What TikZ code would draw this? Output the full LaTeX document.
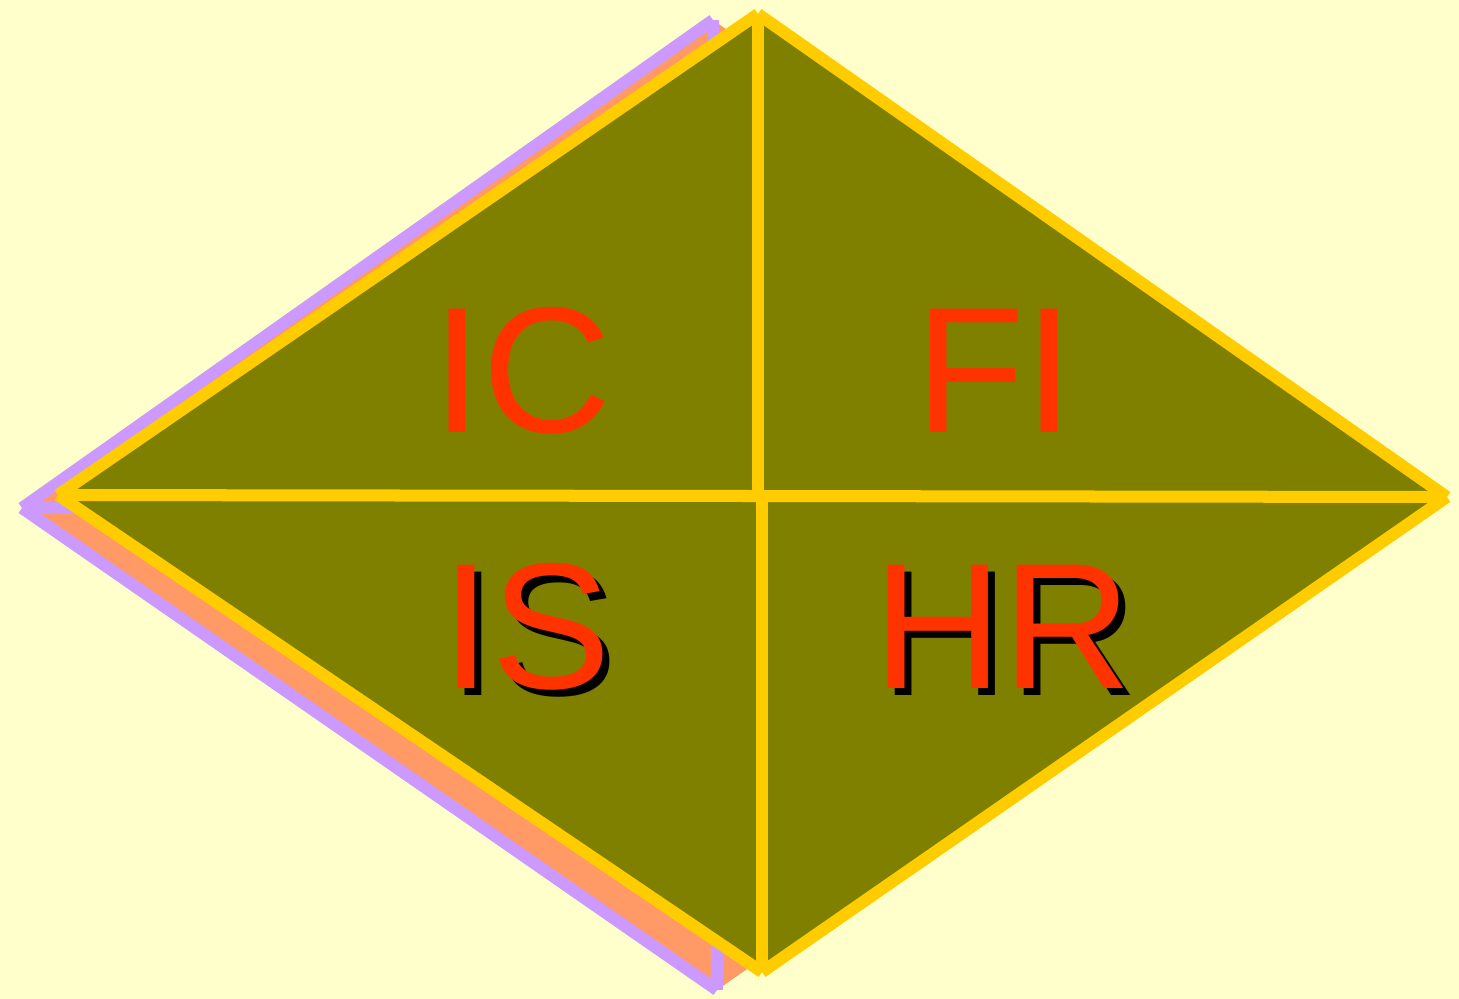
\documentclass[tikz,border=0pt]{standalone}
\usepackage{fontspec}
\setmainfont{Liberation Sans}
\usetikzlibrary{positioning}
\definecolor{paper}{HTML}{FFFFCC}
\definecolor{olive}{HTML}{808000}
\definecolor{gold}{HTML}{FFCC00}
\definecolor{lavender}{HTML}{CC99FF}
\definecolor{salmon}{HTML}{FF9966}
\definecolor{redorange}{HTML}{FF3300}

\begin{document}
\begin{tikzpicture}[x=0.01cm, y=-0.01cm,
		edge/.style={draw=gold, line width=0.12cm},
		shadowedge/.style={draw=lavender, line width=0.12cm},
		quarter/.style={text=redorange, font=\fontsize{51}{51}\selectfont, inner sep=0pt},
		quartershadow/.style={text=black, font=\fontsize{51}{51}\selectfont, inner sep=0pt}]
		\fill[paper] (0,0) rectangle (1459,999);
		\useasboundingbox (0,0) rectangle (1459,999);
		% shadow diamond
		\coordinate (sT) at (713,20);
		\coordinate (sL) at (22,508);
		\coordinate (sB) at (717,990);
		\coordinate (sR) at (1410,508);
		\coordinate (sC) at (715,508);
		\fill[salmon] (sT) -- (sL) -- (sB) -- (sR) -- cycle;
		\draw[shadowedge] (sT) -- (sL);
		\draw[shadowedge] (sL) -- (sB);
		\draw[shadowedge] (sL) -- (sR);
		\draw[shadowedge] (sT) -- (sB);
		% main diamond
		\coordinate (T) at (758,14);
		\coordinate (L) at (58,495);
		\coordinate (B) at (762,972);
		\coordinate (R) at (1447,497);
		\coordinate (C) at (758,496);
		\coordinate (Cb) at (762,496);
		\fill[olive] (T) -- (L) -- (B) -- (R) -- cycle;
		\draw[edge] (T) -- (L);
		\draw[edge] (L) -- (B);
		\draw[edge] (B) -- (R);
		\draw[edge] (R) -- (T);
		\draw[edge] (L) -- (R);
		\draw[edge] (T) -- (C);
		\draw[edge] (Cb) -- (B);
		% labels
		\node[quarter] (IC) at (522,371) {IC};
		\node[quarter] (FI) at (995,371) {FI};
		\node[quartershadow] (ISs) at (533,634) {IS};
		\node[quarter] (IS) at (526,627) {IS};
		\node[quartershadow] (HRs) at (1010,634) {HR};
		\node[quarter] (HR) at (1003,627) {HR};
	\end{tikzpicture}
\end{document}
